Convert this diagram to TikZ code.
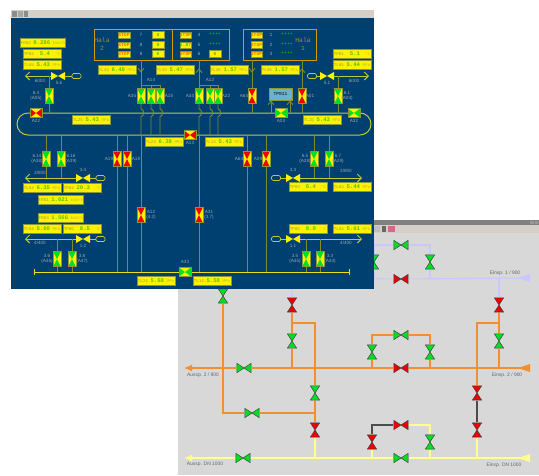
\documentclass[tikz,border=0pt]{standalone}
\usepackage{fontspec}
\setmainfont{Liberation Sans}
\newfontfamily\scadafont{Liberation Mono}
\usepackage{tikz}
\usetikzlibrary{arrows.meta}
\usetikzlibrary{positioning}
\definecolor{panelblue}{HTML}{004070}
\definecolor{winbar}{HTML}{D4D0C8}
\definecolor{wingrey}{HTML}{D8D8D8}
\definecolor{feedcol}{HTML}{7C8C30}
\definecolor{ringcol}{HTML}{C0C838}
\definecolor{halacol}{HTML}{D89808}
\definecolor{tagedge}{HTML}{8C9838}
\definecolor{tagid}{HTML}{98984C}
\definecolor{tagval}{HTML}{58C000}
\definecolor{tagunit}{HTML}{B8B840}
\definecolor{ptextcol}{HTML}{9AA8AC}
\definecolor{halatxt}{HTML}{A09038}
\definecolor{lavcol}{HTML}{C8C8FF}
\definecolor{orgcol}{HTML}{F09030}
\definecolor{yelcol}{HTML}{FFFF90}
\definecolor{gategreen}{HTML}{00E020}
\definecolor{gatered}{HTML}{F00000}
\def\pbb{path picture bounding box}
\tikzstyle{panelv}=[rectangle,draw=tagedge,fill=yellow,line width=.5pt,inner sep=0pt,
    minimum width=7.5pt,minimum height=15pt,path picture={
    \fill[#1] (\pbb.north west) -- (\pbb.north east) -- (\pbb.south west) -- (\pbb.south east) -- cycle;}]
\tikzstyle{panelh}=[rectangle,draw=tagedge,fill=yellow,line width=.5pt,inner sep=0pt,
    minimum width=12pt,minimum height=9pt,path picture={
    \fill[#1] (\pbb.north west) -- (\pbb.south west) -- (\pbb.north east) -- (\pbb.south east) -- cycle;}]
\tikzstyle{butterfly}=[rectangle,inner sep=0pt,minimum width=14pt,minimum height=8pt,path picture={
    \fill[yellow] (\pbb.north west) -- (\pbb.south west) -- (\pbb.north east) -- (\pbb.south east) -- cycle;}]
\tikzstyle{gatev}=[rectangle,inner sep=0pt,minimum width=10pt,minimum height=15pt,path picture={
    \filldraw[fill=#1,draw=black!75,line width=.5pt]
    ([xshift=.4pt,yshift=-.4pt]\pbb.north west) -- ([xshift=-.4pt,yshift=-.4pt]\pbb.north east)
    -- ([xshift=.4pt,yshift=.4pt]\pbb.south west) -- ([xshift=-.4pt,yshift=.4pt]\pbb.south east) -- cycle;}]
\tikzstyle{gateh}=[rectangle,inner sep=0pt,minimum width=15pt,minimum height=10pt,path picture={
    \filldraw[fill=#1,draw=black!75,line width=.5pt]
    ([xshift=.4pt,yshift=-.4pt]\pbb.north west) -- ([xshift=.4pt,yshift=.4pt]\pbb.south west)
    -- ([xshift=-.4pt,yshift=-.4pt]\pbb.north east) -- ([xshift=-.4pt,yshift=.4pt]\pbb.south east) -- cycle;}]
\tikzstyle{tagbox}=[rectangle,draw=tagedge,fill=yellow,line width=.6pt,inner sep=0pt,
    minimum width=38pt,minimum height=8.5pt,font=\scadafont\fontsize{4.2}{5}\selectfont]
\tikzstyle{stopbox}=[rectangle,draw=tagedge,fill=yellow,line width=.4pt,inner sep=0pt,
    minimum width=11.5pt,minimum height=6.5pt,text=orange!80!red,
    font=\scadafont\bfseries\fontsize{4.6}{5}\selectfont]
\tikzstyle{zerobox}=[stopbox,minimum width=12pt,minimum height=7pt,text=tagval]
\tikzstyle{halabox}=[rectangle,draw=halacol,line width=.9pt,inner sep=0pt,minimum height=31pt]
\tikzstyle{ptext}=[inner sep=0pt,align=center,text=ptextcol,font=\fontsize{4.6}{5.4}\selectfont]
\tikzstyle{halatext}=[inner sep=0pt,align=center,text=halatxt,font=\scadafont\fontsize{6.4}{7.8}\selectfont]
\tikzstyle{numtext}=[inner sep=0pt,text=ptextcol,font=\scadafont\fontsize{4.8}{5}\selectfont]
\tikzstyle{startext}=[inner sep=0pt,text=green!75!black,font=\scadafont\bfseries\fontsize{4.8}{5}\selectfont]
\tikzstyle{feed}=[draw=feedcol,line width=.9pt]
\tikzstyle{mainfeed}=[draw=ringcol,line width=1pt]
\tikzstyle{fork}=[-{Straight Barb[length=4pt,width=8pt]}]
\tikzstyle{stub}=[draw=feedcol,line width=.9pt,-{Straight Barb[length=3.5pt,width=6pt]}]
\tikzstyle{capsule}=[rectangle,draw=ringcol,fill=panelblue,line width=.7pt,rounded corners=1.5pt,
    inner sep=0pt,minimum width=9pt,minimum height=5pt]
\tikzstyle{greytext}=[inner sep=0pt,text=black!60,font=\fontsize{4.9}{5}\selectfont]
\tikzstyle{pipe}=[line width=1.1pt]
\tikzstyle{tip}=[-{Latex[length=8pt,width=7pt]}]
\newcommand{\tagline}[3]{{\color{tagid}#1} {\color{tagval}\bfseries\fontsize{5.6}{5}\selectfont #2} {\color{tagunit}#3}}
\newcommand{\feedthrough}[3]{\draw[feed] (#1 |- #2) -- (#1) -- (#1 |- #3);}
\newcommand{\hopline}[1]{\draw[feed] (#1.south) -- ++(0,5) .. controls +(3.5,1) and +(3.5,-1) .. ++(0,8) -- (#1 |- ringbus.south);}

\begin{document}
\begin{tikzpicture}[x=1pt,y=-1pt]
\useasboundingbox (0,0) rectangle (539,475);
\fill[white] (0,0) rectangle (539,475);
%Grey window
\fill[wingrey] (178,220) rectangle (539,475);
\fill[black!50] (178,220) rectangle (539,225);
\fill[winbar] (178,225) rectangle (539,233);
\fill[black!40] (530,221) rectangle (534,224);
\fill[black!40] (535,221) rectangle (538,224);
\fill[black!25] (374,226) rectangle (380,232);
\fill[black!60] (382,226) rectangle (386,232);
\fill[purple!60] (388,226) rectangle (395,232);
%Grey window valves
\node[gateh=gategreen] (gA) at (401,245) {};
\node[gatev=gategreen] (gB) at (430,262) {};
\node[gatev=gategreen] (gC) at (374,262) {};
\node[gateh=gatered] (gD) at (401,279) {};
\node[gatev=gategreen] (gE) at (223,296) {};
\node[gatev=gatered] (gF) at (292,305) {};
\node[gatev=gategreen] (gG) at (292,341) {};
\node[gatev=gatered] (gH) at (499,305) {};
\node[gatev=gategreen] (gI) at (499,341) {};
\node[gateh=gategreen] (gJ) at (401,335) {};
\node[gatev=gategreen] (gK) at (372,352) {};
\node[gatev=gategreen] (gL) at (430,352) {};
\node[gateh=gatered] (gM) at (401,368) {};
\node[gateh=gategreen] (gN) at (244,368) {};
\node[gatev=gategreen] (gO) at (315,393) {};
\node[gatev=gatered] (gP) at (477,393) {};
\node[gateh=gategreen] (gQ) at (252,413) {};
\node[gatev=gatered] (gR) at (315,430) {};
\node[gatev=gatered] (gS) at (477,430) {};
\node[gateh=gatered] (gT) at (401,425) {};
\node[gatev=gatered] (gU) at (372,442) {};
\node[gatev=gategreen] (gV) at (430,442) {};
\node[gateh=gategreen] (gW) at (243,458) {};
\node[gateh=gategreen] (gX) at (401,458) {};
%Grey window ends and junctions
\coordinate (lavR) at (524,278);
\coordinate (lavL) at (292,278);
\coordinate (lavT) at (374,245);
\coordinate (orgR) at (524,368);
\coordinate (orgL) at (184,368);
\coordinate (yelR) at (524,458);
\coordinate (yelL) at (184,458);
\coordinate (jA) at (292,323);
\coordinate (jB) at (499,323);
\coordinate (jC) at (315,413);
\coordinate (jD) at (223,413);
\fill[lavcol] (518,278) -- ++(12,-4) -- ++(0,8) -- cycle;
\fill[orgcol] (518,368) -- ++(12,-4) -- ++(0,8) -- cycle;
\fill[yelcol] (518,458) -- ++(12,-4) -- ++(0,8) -- cycle;
%Lavender
\draw[pipe,lavcol] (lavR) -- (gD) -- (lavL) -- (gF);
\draw[pipe,lavcol] (lavT) -- (gA);
\draw[pipe,lavcol] (gA) -| (gB);
\draw[pipe,lavcol] (gB) -- (gB |- lavL);
\draw[pipe,lavcol] (lavT) -- (gC) -- (gC |- lavL);
\draw[pipe,lavcol] (gH |- lavL) -- (gH);
%Orange
\draw[pipe,orgcol] (orgR) -- (gM) -- (gN);
\draw[pipe,orgcol,tip] (gN) -- (orgL);
\draw[pipe,orgcol] (gF) -- (gG) -- (gG |- orgL);
\draw[pipe,orgcol] (jA) -| (gO);
\draw[pipe,orgcol] (gO) -- (gR);
\draw[pipe,orgcol] (jC) -- (gQ) -- (jD) -- (gE);
\draw[pipe,orgcol] (gJ) -| (gK);
\draw[pipe,orgcol] (gJ) -| (gL);
\draw[pipe,orgcol] (gK) -- (gK |- orgL);
\draw[pipe,orgcol] (gL) -- (gL |- orgL);
\draw[pipe,orgcol] (gH) -- (gI) -- (gI |- orgL);
\draw[pipe,orgcol] (jB) -| (gP);
%Yellow and black
\draw[pipe,black!70] (gP) -- (gS);
\draw[pipe,black!70] (gT) -| (gU);
\draw[pipe,yelcol] (gT) -| (gV);
\draw[pipe,yelcol] (gR) -- (gR |- yelL);
\draw[pipe,yelcol] (gS) -- (gS |- yelL);
\draw[pipe,yelcol] (gU) -- (gU |- yelL);
\draw[pipe,yelcol] (gV) -- (gV |- yelL);
\draw[pipe,yelcol] (yelR) -- (gX) -- (gW);
\draw[pipe,yelcol,tip] (gW) -- (yelL);
%Grey window texts
\node[greytext] (tEinsA) at (505,273) {Einsp. 1 / 900};
\node[greytext] (tAussB) at (203,375) {Aussp. 2 / 900};
\node[greytext] (tEinsB) at (507,375) {Einsp. 2 / 900};
\node[greytext] (tAussC) at (205,464) {Aussp. DN 1000};
\node[greytext] (tEinsC) at (504,465) {Einsp. DN 1000};
%Blue window
\fill[winbar] (11,10) rectangle (374,18);
\fill[black!45] (12,11) rectangle (17,17);
\fill[black!35] (18,11) rectangle (23,17);
\fill[black!45] (24,11) rectangle (28,17);
\fill[panelblue] (11,18) rectangle (374,289);
%Hala frames
\node[halabox,minimum width=78pt] (halaB) at (133,44.5) {};
\node[halabox,minimum width=57pt] (halaC) at (200.5,44.5) {};
\node[halabox,minimum width=73pt] (halaA) at (279.5,44.5) {};
\node[halatext] (tHalaB) at (102,44.5) {Hala\\2};
\node[halatext] (tHalaA) at (303,44.5) {Hala\\1};
\node[stopbox] (s7) at (124,35) {STOP};
\node[stopbox] (s8) at (124,45) {STOP};
\node[stopbox] (s9) at (124,54) {STOP};
\node[numtext] (n7) at (141,35) {7};
\node[numtext] (n8) at (141,45) {8};
\node[numtext] (n9) at (141,54) {9};
\node[zerobox] (z7) at (158,35) {\hfill 0};
\node[zerobox] (z8) at (158,45) {\hfill 0};
\node[zerobox] (z9) at (158,54) {\hfill 0};
\node[stopbox] (s4) at (185.5,35) {STOP};
\node[stopbox,text=tagval] (s5) at (185.5,45) {1.87};
\node[stopbox] (s6) at (185.5,54) {STOP};
\node[numtext] (n4) at (199,35) {4};
\node[numtext] (n5) at (199,45) {5};
\node[numtext] (n6) at (199,54) {6};
\node[startext] (z4) at (215,35) {****};
\node[startext] (z5) at (215,45) {****};
\node[zerobox] (z6) at (215,54) {\hfill 0};
\node[stopbox] (s1) at (256.5,35) {STOP};
\node[stopbox] (s2) at (256.5,44.5) {STOP};
\node[stopbox] (s3) at (256.5,54) {STOP};
\node[numtext] (n1) at (271,35) {1};
\node[numtext] (n2) at (271,44.5) {2};
\node[numtext] (n3) at (271,54) {3};
\node[startext] (z1) at (287,35) {****};
\node[startext] (z2) at (287,44.5) {****};
\node[startext] (z3) at (287,54) {****};
%Ring main
\node[rectangle,draw=ringcol,line width=1pt,rounded corners=11pt,inner sep=0pt,
    minimum width=354pt,minimum height=22pt] (ringbus) at (194,124) {};
%Upper valves
\node[panelv=gategreen] (vA05) at (49,96) {};
\node[panelv=gategreen] (vA35) at (141,96) {};
\node[panelv=gategreen] (vA14) at (151,96) {};
\node[panelv=gategreen] (vA15) at (160,96) {};
\node[panelv=gategreen] (vA34) at (199,96) {};
\node[panelv=gategreen] (vA12) at (210,96) {};
\node[panelv=gategreen] (vA22) at (218,96) {};
\node[panelv=gatered] (vA63) at (252,96) {};
\node[panelv=gatered] (vA01) at (302,96) {};
\node[panelv=gategreen] (vA04) at (338,96) {};
\node[rectangle,draw=tagedge,fill=cyan!50!teal!70,line width=.5pt,inner sep=0pt,minimum width=23pt,
    minimum height=12pt,font=\scadafont\fontsize{4.6}{5}\selectfont] (tp011) at (280.5,94) {TP011};
%Upper supply lines
\coordinate (topL) at (25,76);
\coordinate (topR) at (369,76);
\coordinate (teeA) at (151,85);
\coordinate (teeB) at (210,85);
\coordinate (tpa) at (271,100.5);
\coordinate (tpb) at (290,100.5);
\node[capsule] (capA) at (76.5,76) {};
\node[butterfly] (bA) at (58,76) {};
\node[capsule] (capB) at (312,76) {};
\node[butterfly] (bB) at (327,76) {};
\draw[mainfeed] (capA) -- (bA);
\draw[mainfeed,fork] (bA) -- (topL);
\draw[mainfeed] (capB) -- (bB);
\draw[mainfeed,fork] (bB) -- (topR);
\feedthrough{vA05}{topL}{ringbus.north}
\feedthrough{vA04}{topR}{ringbus.north}
\draw[feed] (vA35 |- halaB.south) -- (vA35);
\draw[stub] (vA35 |- halaB.south) -- ([yshift=-12pt]vA35 |- halaB.south);
\draw[feed] (vA35 |- teeA) -- (vA15 |- teeA) -- (vA15);
\draw[feed] (vA14 |- teeA) -- (vA14);
\draw[feed] (vA34 |- halaC.south) -- (vA34);
\draw[stub] (vA34) -- ([yshift=-8pt]vA34 |- halaC.south);
\draw[feed] (vA34 |- teeB) -- (vA22 |- teeB) -- (vA22);
\draw[feed] (vA12 |- teeB) -- (vA12);
\feedthrough{vA63}{halaA.south}{ringbus.north}
\draw[stub] (vA63 |- halaA.south) -- ([yshift=-12pt]vA63 |- halaA.south);
\feedthrough{vA01}{halaA.south}{ringbus.north}
\draw[stub] (vA01) -- ([yshift=-8pt]vA01 |- halaA.south);
\hopline{vA35}
\hopline{vA14}
\hopline{vA15}
\hopline{vA34}
\hopline{vA12}
\hopline{vA22}
\draw[stub] (tpa |- ringbus.north) -- (tpa);
\draw[stub] (tpb |- ringbus.north) -- (tpb);
%Ring valves
\node[panelh=gatered] (vA22h) at (36,113) {};
\node[panelh=gatered] (vA13) at (190,135) {};
\node[panelh=gategreen] (vA03) at (281,113) {};
\node[panelh=gategreen] (vA32) at (354,113) {};
%Lower valves
\node[panelv=gategreen] (vA38) at (46,159) {};
\node[panelv=gategreen] (vA39) at (61,159) {};
\node[panelv=gatered] (vA19) at (117,159) {};
\node[panelv=gatered] (vA18) at (127,159) {};
\node[panelv=gatered] (vA02) at (141,215) {};
\node[panelv=gatered] (vA31) at (199,215) {};
\node[panelv=gatered] (vA64) at (247,159) {};
\node[panelv=gatered] (vA09) at (266,159) {};
\node[panelv=gategreen] (vA28) at (314,159) {};
\node[panelv=gategreen] (vA29) at (329,159) {};
\node[panelv=gategreen] (vA46) at (57,259) {};
\node[panelv=gategreen] (vA47) at (72,259) {};
\node[panelv=gategreen] (vA45) at (306,259) {};
\node[panelv=gategreen] (vA44) at (320,259) {};
%Lower lines
\coordinate (midL) at (25,178);
\coordinate (midR) at (362,178);
\coordinate (lowL) at (25,239);
\coordinate (lowR) at (362,239);
\coordinate (baseA) at (34,272);
\coordinate (baseB) at (349,272);
\node[capsule] (capC) at (100.5,178) {};
\node[butterfly] (bC) at (83,178) {};
\node[capsule] (capD) at (100.5,239) {};
\node[butterfly] (bD) at (83,239) {};
\node[capsule] (capE) at (276,178) {};
\node[butterfly] (bE) at (293,178) {};
\node[capsule] (capF) at (276,239) {};
\node[butterfly] (bF) at (293,239) {};
\draw[mainfeed] (capC) -- (bC);
\draw[mainfeed,fork] (bC) -- (midL);
\draw[mainfeed] (capD) -- (bD);
\draw[mainfeed,fork] (bD) -- (lowL);
\draw[mainfeed] (capE) -- (bE);
\draw[mainfeed,fork] (bE) -- (midR);
\draw[mainfeed] (capF) -- (bF);
\draw[mainfeed,fork] (bF) -- (lowR);
\feedthrough{vA38}{ringbus.south}{midL}
\feedthrough{vA39}{ringbus.south}{midL}
\feedthrough{vA19}{ringbus.south}{baseA}
\feedthrough{vA18}{ringbus.south}{baseA}
\feedthrough{vA02}{ringbus.south}{baseA}
\feedthrough{vA31}{ringbus.south}{baseA}
\feedthrough{vA64}{ringbus.south}{baseA}
\feedthrough{vA09}{ringbus.south}{baseA}
\feedthrough{vA28}{ringbus.south}{midR}
\feedthrough{vA29}{ringbus.south}{midR}
\feedthrough{vA46}{lowL}{baseA}
\feedthrough{vA47}{lowL}{baseA}
\feedthrough{vA45}{lowR}{baseA}
\feedthrough{vA44}{lowR}{baseA}
\draw[yellow!90!black,line width=1pt] (baseA) -- (baseB);
\draw[yellow!90!black,line width=.7pt] ([yshift=3pt]baseA) -- ([yshift=-3pt]baseA);
\draw[yellow!90!black,line width=.7pt] ([yshift=3pt]baseB) -- ([yshift=-3pt]baseB);
\node[panelh=gategreen] (vA33) at (185,272) {};
%Valve texts
\node[ptext] (lA05) at (36,96) {6.4\\(A05)};
\node[ptext] (lB1) at (59,83) {5.6};
\node[ptext] (lTopL) at (40,81) {6000};
\node[ptext] (lA14) at (151,80) {A14};
\node[ptext] (lA35) at (132,96) {A35};
\node[ptext] (lA15) at (169,96) {A15};
\node[ptext] (lA34) at (190,96) {A34};
\node[ptext] (lA12) at (210,80) {A12};
\node[ptext] (lA22b) at (226,96) {A22};
\node[ptext] (lA63) at (244,96) {A63};
\node[ptext] (lA01) at (310,96) {A01};
\node[ptext] (lA04) at (347,96) {6.1\\(A04)};
\node[ptext] (lB2) at (327,83) {5.1};
\node[ptext] (lTopR) at (354,81) {6000};
\node[ptext] (lA22) at (36,121) {A22};
\node[ptext] (lA13) at (190,143) {A13};
\node[ptext] (lA03) at (281,121) {A03};
\node[ptext] (lA32) at (354,121) {A32};
\node[ptext] (lA38) at (37,159) {6.14\\(A38)};
\node[ptext] (lA39) at (71,159) {6.16\\(A39)};
\node[ptext] (lA19) at (109,159) {A19};
\node[ptext] (lA18) at (136,159) {A18};
\node[ptext] (lA02) at (151,215) {A12\\(4.2)};
\node[ptext] (lA31) at (209,215) {A31\\(3.7)};
\node[ptext] (lA64) at (239,159) {A64};
\node[ptext] (lA09) at (258,159) {A09};
\node[ptext] (lA28) at (305,159) {6.5\\(A28)};
\node[ptext] (lA29) at (338,159) {6.7\\(A29)};
\node[ptext] (lB3) at (83,170) {3.4};
\node[ptext] (lB4) at (83,246) {1.2};
\node[ptext] (lB5) at (293,170) {3.3};
\node[ptext] (lB6) at (293,246) {1.1};
\node[ptext] (lMidL) at (40,173) {3/800};
\node[ptext] (lLowL) at (40,243) {4/400};
\node[ptext] (lMidR) at (346,171) {3/800};
\node[ptext] (lLowR) at (346,243) {4/400};
\node[ptext] (lA46) at (47,259) {3.6\\(A46)};
\node[ptext] (lA47) at (82,259) {3.8\\(A47)};
\node[ptext] (lA45) at (295,259) {3.5\\(A45)};
\node[ptext] (lA44) at (330,259) {3.3\\(A44)};
\node[ptext] (lA33) at (185,262) {A33};
%Measured values
\node[tagbox,minimum width=44pt] (fr52) at (43,43) {\tagline{FR52}{0.286}{km3/h}};
\node[tagbox] (tp02) at (42,54) {\tagline{TP02}{~5.4}{~°C}};
\node[tagbox] (tl55) at (42,65) {\tagline{TL55}{5.43}{MPa}};
\node[tagbox] (tl43) at (117,70) {\tagline{TL43}{6.40}{MPa}};
\node[tagbox] (tl33) at (175,70) {\tagline{TL33}{5.47}{MPa}};
\node[tagbox] (tl45) at (229,70) {\tagline{TL45}{1.57}{MPa}};
\node[tagbox] (tl26) at (280,70) {\tagline{TL26}{1.57}{MPa}};
\node[tagbox] (tp01) at (352,54) {\tagline{TP01}{~5.1}{~°C}};
\node[tagbox] (tl05) at (352,65) {\tagline{TL05}{5.44}{MPa}};
\node[tagbox] (tl25) at (91,120) {\tagline{TL25}{5.43}{MPa}};
\node[tagbox] (tl15) at (322,120) {\tagline{TL15}{5.43}{MPa}};
\node[tagbox] (tl23) at (164,142) {\tagline{TL23}{6.38}{MPa}};
\node[tagbox] (tl13) at (224,142) {\tagline{TL13}{5.43}{MPa}};
\node[tagbox] (tl52) at (42,188) {\tagline{TL52}{6.35}{MPa}};
\node[tagbox] (tp04) at (82,188) {\tagline{TP04}{20.3}{~°C}};
\node[tagbox,minimum width=44pt] (fr51) at (61,200) {\tagline{FR51}{1.021}{km3/h}};
\node[tagbox,minimum width=44pt] (fr53) at (61,218) {\tagline{FR53}{1.566}{km3/h}};
\node[tagbox] (tl54) at (42,229) {\tagline{TL54}{5.60}{MPa}};
\node[tagbox] (tp06) at (82,229) {\tagline{TP06}{~8.5}{~°C}};
\node[tagbox] (tl24) at (156,281) {\tagline{TL24}{5.60}{MPa}};
\node[tagbox] (tl14) at (212,281) {\tagline{TL14}{5.58}{MPa}};
\node[tagbox] (tp03) at (308,187) {\tagline{TP03}{~6.4}{~°C}};
\node[tagbox] (tl03) at (352,187) {\tagline{TL03}{5.44}{MPa}};
\node[tagbox] (tp05) at (308,229) {\tagline{TP05}{~8.0}{~°C}};
\node[tagbox] (tl04) at (352,229) {\tagline{TL04}{5.61}{MPa}};
\end{tikzpicture}
\end{document}
